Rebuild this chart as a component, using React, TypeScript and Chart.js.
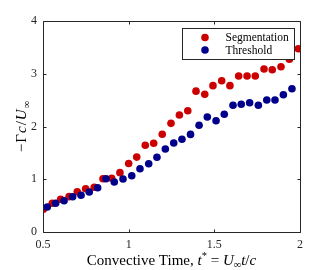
import { useEffect, useRef } from "react";
import { Chart, registerables } from "chart.js";

Chart.register(...registerables);

// ---- data ----
const segmentationTime = [
  0.502, 0.554, 0.603, 0.652, 0.7, 0.749, 0.799, 0.85, 0.901, 0.949, 1.0,
  1.047, 1.097, 1.146, 1.196, 1.247, 1.296, 1.345, 1.393, 1.444, 1.492,
  1.543, 1.591, 1.642, 1.691, 1.739, 1.79, 1.838, 1.889, 1.938, 1.99,
];
const segmentationCirculation = [
  0.43, 0.544, 0.62, 0.67, 0.764, 0.82, 0.847, 1.01, 1.018, 1.125, 1.3,
  1.42, 1.644, 1.682, 1.852, 2.06, 2.218, 2.3, 2.67, 2.61, 2.774,
  2.868, 2.774, 2.957, 2.957, 2.957, 3.09, 3.077, 3.134, 3.274, 3.475,
];
const thresholdTime = [
  0.525, 0.574, 0.623, 0.673, 0.722, 0.77, 0.819, 0.868, 0.916, 0.967,
  1.018, 1.066, 1.117, 1.165, 1.214, 1.263, 1.311, 1.361, 1.411, 1.459,
  1.51, 1.558, 1.609, 1.657, 1.706, 1.757, 1.806, 1.854, 1.903, 1.953,
];
const thresholdCirculation = [
  0.474, 0.544, 0.593, 0.669, 0.696, 0.758, 0.84, 1.01, 0.948, 1.005,
  1.067, 1.2, 1.295, 1.416, 1.573, 1.687, 1.757, 1.85, 2.023, 2.18,
  2.11, 2.231, 2.402, 2.421, 2.451, 2.402, 2.502, 2.502, 2.603, 2.717,
];
const xTickValues = [0.5, 1, 1.5, 2];
const yTickValues = [0, 1, 2, 3, 4];
const seriesLabels = ["Segmentation", "Threshold"];
const seriesColors = ["#cc0000", "#00008b"];

type Seg = { t: string; it?: boolean; s?: number; dy?: number };
const xTitle: Seg[] = [
  { t: "Convective Time, " },
  { t: "t", it: true },
  { t: "*", s: 0.7, dy: -0.4 },
  { t: " = " },
  { t: "U", it: true },
  { t: "∞", s: 0.7, dy: 0.22 },
  { t: "t", it: true },
  { t: "/" },
  { t: "c", it: true },
];
const yTitle: Seg[] = [
  { t: "−" },
  { t: "Γ" },
  { t: "c", it: true },
  { t: "/" },
  { t: "U", it: true },
  { t: "∞", s: 0.7, dy: 0.25 },
];

const FONT = "'Liberation Serif', 'Times New Roman', serif";
const AXIS = "#262626";

function fontOf(seg: Seg, size: number) {
  const sz = size * (seg.s ?? 1);
  return `${seg.it ? "italic " : ""}${sz}px ${FONT}`;
}

function drawRich(ctx: CanvasRenderingContext2D, segs: Seg[], size: number, gap = 0) {
  let total = 0;
  const widths = segs.map((seg) => {
    ctx.font = fontOf(seg, size);
    const w = ctx.measureText(seg.t).width + gap;
    total += w;
    return w;
  });
  total -= gap;
  let x = -total / 2;
  ctx.textBaseline = "alphabetic";
  ctx.textAlign = "left";
  segs.forEach((seg, i) => {
    ctx.font = fontOf(seg, size);
    ctx.fillText(seg.t, x, (seg.dy ?? 0) * size);
    x += widths[i];
  });
}

const decorPlugin = {
  id: "decor",
  afterDraw(chart: any) {
    const ctx: CanvasRenderingContext2D = chart.ctx;
    const { left, right, top, bottom } = chart.chartArea;
    const xs = chart.scales.x;
    const ys = chart.scales.y;
    ctx.save();
    ctx.strokeStyle = AXIS;
    ctx.lineWidth = 1;
    const L = Math.round(left) + 0.5;
    const R = Math.round(right) + 0.5;
    const T = Math.round(top) + 0.5;
    const B = Math.round(bottom) + 0.5;
    ctx.beginPath();
    ctx.rect(L, T, R - L, B - T);
    const tl = 3;
    xTickValues.forEach((v) => {
      const px = Math.round(xs.getPixelForValue(v)) + 0.5;
      ctx.moveTo(px, B);
      ctx.lineTo(px, B - tl);
      ctx.moveTo(px, T);
      ctx.lineTo(px, T + tl);
    });
    yTickValues.forEach((v) => {
      const py = Math.round(ys.getPixelForValue(v)) + 0.5;
      ctx.moveTo(L, py);
      ctx.lineTo(L + tl, py);
      ctx.moveTo(R, py);
      ctx.lineTo(R - tl, py);
    });
    ctx.stroke();

    // legend
    const lx = 182.5, ly = 28.5, lw = 112, lh = 31;
    ctx.fillStyle = "#ffffff";
    ctx.fillRect(lx, ly, lw, lh);
    ctx.strokeStyle = AXIS;
    ctx.strokeRect(lx, ly, lw, lh);
    seriesLabels.forEach((label, i) => {
      const cy = 37.5 + i * 12.5;
      ctx.beginPath();
      ctx.fillStyle = seriesColors[i];
      ctx.arc(205, cy, 3.8, 0, Math.PI * 2);
      ctx.fill();
      ctx.fillStyle = "#000000";
      ctx.font = `11.5px ${FONT}`;
      ctx.textAlign = "left";
      ctx.textBaseline = "middle";
      ctx.fillText(label, 225.5, cy + 0.5);
    });

    // axis titles
    ctx.fillStyle = "#000000";
    ctx.save();
    ctx.translate((left + right) / 2, 264.5);
    drawRich(ctx, xTitle, 15);
    ctx.restore();
    ctx.save();
    ctx.translate(26, (top + bottom) / 2);
    ctx.rotate(-Math.PI / 2);
    drawRich(ctx, yTitle, 15, 1);
    ctx.restore();
    ctx.restore();
  },
};

export default function App() {
  const ref = useRef<HTMLCanvasElement | null>(null);
  useEffect(() => {
    if (!ref.current) return;
    const chart = new Chart(ref.current, {
      type: "scatter",
      data: {
        datasets: [
          {
            label: seriesLabels[0],
            data: segmentationTime.map((x, i) => ({ x, y: segmentationCirculation[i] })),
            backgroundColor: seriesColors[0],
            borderWidth: 0,
            pointRadius: 3.8,
            order: 2,
          },
          {
            label: seriesLabels[1],
            data: thresholdTime.map((x, i) => ({ x, y: thresholdCirculation[i] })),
            backgroundColor: seriesColors[1],
            borderWidth: 0,
            pointRadius: 3.8,
            order: 1,
          },
        ],
      },
      options: {
        animation: false,
        responsive: false,
        layout: { padding: { left: 0, right: 32, top: 21, bottom: 0 } },
        plugins: { legend: { display: false }, tooltip: { enabled: false } },
        scales: {
          x: {
            type: "linear",
            min: 0.5,
            max: 2,
            afterBuildTicks: (s: any) => {
              s.ticks = xTickValues.map((value) => ({ value }));
            },
            afterFit: (s: any) => {
              s.height = 38;
            },
            grid: { display: false, drawTicks: false },
            border: { display: false },
            ticks: {
              padding: 6,
              color: AXIS,
              font: { family: FONT, size: 12 },
              maxRotation: 0,
              callback: (v: any) => String(v),
            },
          },
          y: {
            type: "linear",
            min: 0,
            max: 4,
            afterBuildTicks: (s: any) => {
              s.ticks = yTickValues.map((value) => ({ value }));
            },
            afterFit: (s: any) => {
              s.width = 43;
            },
            grid: { display: false, drawTicks: false },
            border: { display: false },
            ticks: {
              padding: 6,
              color: AXIS,
              font: { family: FONT, size: 12 },
              callback: (v: any) => String(v),
            },
          },
        },
      },
      plugins: [decorPlugin],
    });
    return () => chart.destroy();
  }, []);
  return (
    <div style={{ position: "fixed", left: 0, top: 0, width: 332, height: 270, background: "#fff" }}>
      <canvas ref={ref} width={332} height={270} style={{ display: "block" }} />
    </div>
  );
}
